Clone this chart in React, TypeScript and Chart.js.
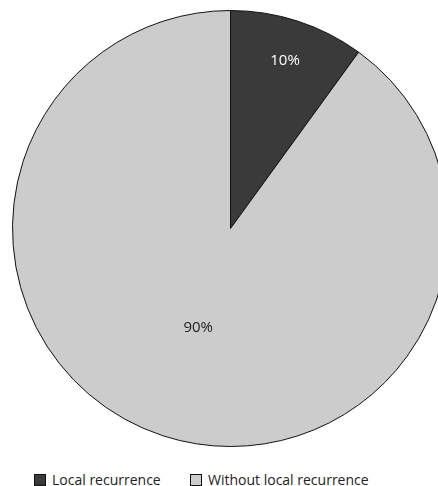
import { useEffect, useRef } from "react";
import { Chart, registerables } from "chart.js";

Chart.register(...registerables);

const categories = ["Local recurrence", "Without local recurrence"];
const values = [10, 90];
const colors = ["#3a3a3a", "#cccccc"];
const labelColors = ["#ffffff", "#222222"];
const labelRadius = [0.81, 0.48];

const labelPlugin = {
  id: "sliceLabels",
  afterDatasetsDraw(chart: any) {
    const ctx = chart.ctx;
    const meta = chart.getDatasetMeta(0);
    ctx.save();
    ctx.font = "15px 'Open Sans', sans-serif";
    ctx.textAlign = "center";
    ctx.textBaseline = "middle";
    meta.data.forEach((arc: any, i: number) => {
      const mid = (arc.startAngle + arc.endAngle) / 2;
      const r = arc.outerRadius * labelRadius[i];
      ctx.fillStyle = labelColors[i];
      ctx.fillText(values[i] + "%", arc.x + Math.cos(mid) * r, arc.y + Math.sin(mid) * r);
    });
    ctx.restore();
  },
};

export default function App() {
  const chartRef = useRef<HTMLCanvasElement>(null);
  const chartInstance = useRef<Chart | null>(null);

  useEffect(() => {
    if (chartRef.current) {
      const ctx = chartRef.current.getContext("2d");
      if (ctx) {
        if (chartInstance.current) chartInstance.current.destroy();
        chartInstance.current = new Chart(ctx, {
          type: "pie",
          data: {
            labels: categories,
            datasets: [
              {
                data: values,
                backgroundColor: colors,
                borderColor: "#111",
                borderWidth: 1,
              },
            ],
          },
          options: {
            responsive: true,
            maintainAspectRatio: false,
            animation: false,
            layout: { padding: 0 },
            plugins: { legend: { display: false }, tooltip: { enabled: false } },
          },
          plugins: [labelPlugin],
        });
      }
    }
    return () => {
      if (chartInstance.current) chartInstance.current.destroy();
    };
  }, []);

  const legendItem = (i: number, left: number) => (
    <div
      style={{
        position: "absolute",
        left,
        top: 470,
        display: "flex",
        alignItems: "center",
        font: "14px 'Open Sans', sans-serif",
        color: "#222",
        whiteSpace: "nowrap",
      }}
    >
      <span
        style={{
          display: "inline-block",
          width: 10,
          height: 10,
          background: colors[i],
          border: "1px solid #111",
          marginRight: 6,
        }}
      />
      {categories[i]}
    </div>
  );

  return (
    <div style={{ position: "fixed", left: 0, top: 0, width: 438, height: 486, overflow: "hidden", background: "#fff" }}>
      <div style={{ position: "absolute", left: 12, top: 10, width: 437, height: 437 }}>
        <canvas ref={chartRef}></canvas>
      </div>
      {legendItem(0, 34)}
      {legendItem(1, 190)}
    </div>
  );
}
